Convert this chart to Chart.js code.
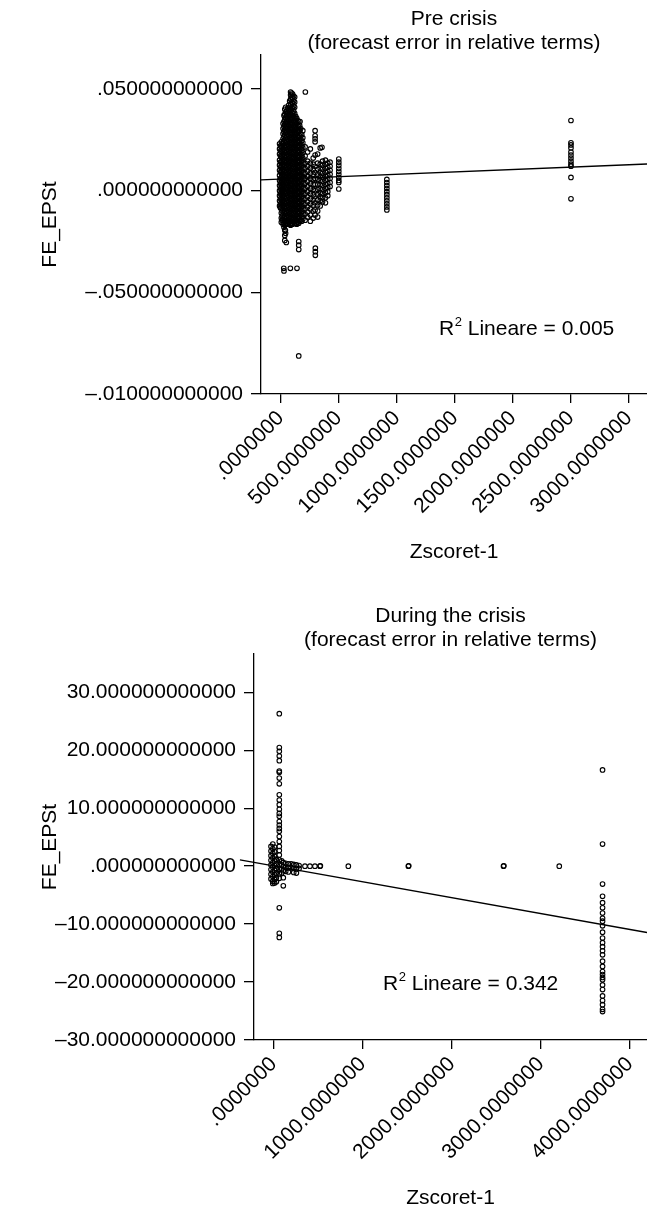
<!DOCTYPE html>
<html>
<head>
<meta charset="utf-8">
<script src="https://cdn.jsdelivr.net/npm/chart.js@4"></script>
<style>
  html, body { margin: 0; padding: 0; background: #fff; }
  body { width: 647px; height: 1212px; position: relative; overflow: hidden; }
  canvas { position: absolute; left: 0; }
  #pre-chart { top: 0; }
  #during-chart { top: 580px; }
</style>
</head>
<body>
<canvas id="pre-chart" width="647" height="580"></canvas>
<canvas id="during-chart" width="647" height="632"></canvas>
<script>
const FONT = '"Liberation Sans", Arial, Helvetica, sans-serif';
Chart.defaults.font.family = FONT;
Chart.defaults.color = '#000';

// ---- Pre crisis (FE_EPSt read in thousandths) ----
// [Zscoret-1, [FE_EPSt values ...]]
const preColumns = [
  [-10, [23, 20.5, 18, 15, 12.5, 10, 7.5, 5, 2.5, 0, -2.5, -5, -7.5]],
  [-2, [22, 19.5, 17, 14, 11.5, 9, 6, 3.5, 1, -1.5, -4, -6.5, -8.5]],
  [5, [24, 21.5, 19, 16.5, 14, 11.5, 9, 6.5, 4, 1.5, -1, -3.5, -6, -8.5, -11, -13.5, -15.5]],
  [12, [23, 20, 17.5, 15, 12.5, 10, 7.5, 5, 2.5, 0, -2.5, -5, -7.5, -10, -12.5, -14.5]],
  [20, [33, 30.5, 28, 25.5, 23, 20.5, 18, 15.5, 13, 10.5, 8, 5.5, 3, 0.5, -2, -4.5, -7, -9.5, -12, -14.5, -16.5]],
  [28, [37, 34, 31.5, 29, 26.5, 24, 21.5, 19, 16.5, 14, 11.5, 9, 6.5, 4, 1.5, -1, -3.5, -6, -8.5, -11, -13.5, -16, -18]],
  [35, [40, 37.5, 35, 32.5, 30, 27.5, 25, 22.5, 20, 17.5, 15, 12.5, 10, 7.5, 5, 2.5, 0, -2.5, -5, -7.5, -10, -12.5, -15, -17, -19.5, -22, -24.5]],
  [42, [41, 38.5, 36, 33.5, 31, 28.5, 26, 23.5, 21, 18.5, 16, 13.5, 11, 8.5, 6, 3.5, 1, -1.5, -4, -6.5, -9, -11.5, -14, -16.5]],
  [50, [39, 36.5, 34, 31.5, 29, 26.5, 24, 21.5, 19, 16.5, 14, 11.5, 9, 6.5, 4, 1.5, -1, -3.5, -6, -8.5, -11, -13.5, -16]],
  [59, [40.5, 38, 35.5, 33, 30.5, 28, 25.5, 23, 20.5, 18, 15.5, 13, 10.5, 8, 5.5, 3, 0.5, -2, -4.5, -7, -9.5, -12, -14.5, -16.5]],
  [68, [42, 39.5, 37, 34.5, 32, 29.5, 27, 24.5, 22, 19.5, 17, 14.5, 12, 9.5, 7, 4.5, 2, -0.5, -3, -5.5, -8, -10.5, -13, -15.5]],
  [77, [44, 41, 38.5, 36, 33.5, 31, 28.5, 26, 23.5, 21, 18.5, 16, 13.5, 11, 8.5, 6, 3.5, 1, -1.5, -4, -6.5, -9, -11.5, -14, -16.5]],
  [85, [48.5, 47, 45, 42.5, 40, 37.5, 35, 32.5, 30, 27.5, 25, 22.5, 20, 17.5, 15, 12.5, 10, 7.5, 5, 2.5, 0, -2.5, -5, -7.5, -10, -12.5, -15, -17]],
  [94, [48, 46, 43.5, 41, 38.5, 36, 33.5, 31, 28.5, 26, 23.5, 21, 18.5, 16, 13.5, 11, 8.5, 6, 3.5, 1, -1.5, -4, -6.5, -9, -11.5, -14, -16]],
  [102, [47.5, 45.5, 43, 40.5, 38, 35.5, 33, 30.5, 28, 25.5, 23, 20.5, 18, 15.5, 13, 10.5, 8, 5.5, 3, 0.5, -2, -4.5, -7, -9.5, -12, -14.5, -16.5]],
  [111, [46.5, 44, 41.5, 39, 36.5, 34, 31.5, 29, 26.5, 24, 21.5, 19, 16.5, 14, 11.5, 9, 6.5, 4, 1.5, -1, -3.5, -6, -8.5, -11, -13.5, -15.5]],
  [120, [46, 43.5, 41, 38, 35.5, 33, 30.5, 28, 25.5, 23, 20.5, 18, 15.5, 13, 10.5, 8, 5.5, 3, 0.5, -2, -4.5, -7, -9.5, -12, -14.5, -16]],
  [129, [36.5, 34, 31.5, 29, 26.5, 24, 21.5, 19, 16.5, 14, 11.5, 9, 6.5, 4, 1.5, -1, -3.5, -6, -8.5, -11, -13.5, -16]],
  [138, [35.5, 33, 30.5, 28, 25.5, 23, 20.5, 18, 15.5, 13, 10.5, 8, 5.5, 3, 0.5, -2, -4.5, -7, -9.5, -12, -14.5, -16.5]],
  [146, [34.5, 32, 29.5, 27, 24.5, 22, 19.5, 17, 14.5, 12, 9.5, 7, 4.5, 2, -0.5, -3, -5.5, -8, -10.5, -13, -15.5]],
  [155, [34, 31.5, 29, 26.5, 24, 21.5, 19, 16.5, 14, 11.5, 9, 6.5, 4, 1.5, -1, -3.5, -6, -8.5, -11, -13.5, -16]],
  [163, [32, 29.5, 27, 24.5, 22, 19.5, 17, 14.5, 12, 9.5, 7, 4.5, 2, -0.5, -3, -5.5, -8, -10.5, -13, -15]],
  [172, [30.5, 28, 25.5, 23, 20.5, 18, 15.5, 13, 10.5, 8, 5.5, 3, 0.5, -2, -4.5, -7, -9.5, -12, -14.5]],
  [181, [27.5, 24.5, 22, 19.5, 17, 14.5, 12, 9.5, 7, 4.5, 2, -0.5, -3, -5.5, -8, -10.5, -13, -15]],
  [190, [29.5, 26, 23.5, 21, 18.5, 16, 13.5, 11, 8.5, 6, 3.5, 1, -1.5, -4, -6.5, -9, -11.5, -14]],
  [210, [21.5, 17, 13.5, 11, 8.5, 6, 3.5, 1, -1.5, -4, -6.5, -9, -11.5, -14.5]],
  [232, [19, 14.5, 12, 9.5, 7, 4.5, 2, -0.5, -3, -5.5, -8, -10.5, -13]],
  [255, [20.5, 13.5, 11, 8.5, 6, 3.5, 1, -1.5, -4, -6.5, -9, -12, -15]],
  [280, [16, 13, 10.5, 8, 5.5, 3, 0.5, -2, -4.5, -7, -10, -13.5]],
  [296, [29.5, 27, 25.5, 24, 17.5, 12, 9, 6, 3, 0, -3, -6, -9.5, -12]],
  [318, [18, 13.5, 10.5, 8, 5.5, 3, 0.5, -2, -4.5, -7, -10, -13]],
  [340, [21, 13, 11, 9, 7, 5, 3, 1, -1, -3, -5, -7.5]],
  [360, [14.5, 12.5, 10.5, 8.5, 6.5, 4.5, 2.5, 0.5, -1.5, -3.5, -5.5]],
  [385, [15, 13, 11, 9, 7, 5, 3, 1, -1, -3.5, -6]],
  [405, [13.5, 11.5, 9.5, 7.5, 5.5, 3.5, 1.5, -0.5, -2.5]],
  [425, [14, 12, 10, 8, 6, 4, 2]],
  [500, [15.5, 14, 12.5, 11, 9.5, 8, 6.5, 5, 4, 0.8]],
  [914, [5.5, 4, 2.5, 1, -0.5, -2, -3.5, -5, -6.5, -8, -9.5]],
  [2500, [34.5, 23.5, 22.5, 21, 19, 17.5, 16, 14.5, 13, 12, 6.5, -4]]
];
const preSingles = [
  [212, 48.5], [166, 34], [355, 21.3], [40, -19.5], [42, -21], [48, -25.5],
  [155, -25], [155, -26.8], [155, -29], [298, -28.3], [298, -30], [298, -31.8],
  [26, -38.2], [28, -39.5], [83, -38.2], [140, -38.2], [155, -81.3]
];
const preFit = [[-170, 5.3], [3155, 13.1]];
const preXTicks = [0, 500, 1000, 1500, 2000, 2500, 3000];
const preXLabels = ['.0000000', '500.0000000', '1000.0000000', '1500.0000000', '2000.0000000', '2500.0000000', '3000.0000000'];
const preYTicks = [-0.1, -0.05, 0, 0.05];
const preYLabels = ['\u2013.010000000000', '\u2013.050000000000', '.000000000000', '.050000000000'];

// ---- During the crisis ----
const duringColumns = [
  [-30, [3.4, 2.6, 1.8, 1.0, 0.2, -0.6, -1.4, -2.2]],
  [-10, [3.8, 3.0, 2.2, 1.4, 0.6, -0.2, -1.0, -1.8, -2.6, -3.0]],
  [10, [3.3, 2.5, 1.7, 0.9, 0.1, -0.7, -1.5, -2.3, -2.9]],
  [30, [1.2, 0.4, -0.4, -1.2, -2.0, -2.7]],
  [63, [26.3, 20.45, 19.8, 19.0, 18.2, 16.4, 16.2, 15.2, 14.2, 12.3, 11.4, 10.6, 9.8, 9.1, 8.6, 7.7, 7.1, 6.5, 6.0, 5.1, 4.25, 3.4, 2.7, 1.9, 1.1, 0.3, -0.5, -1.3, -2.1, -7.2, -11.6, -12.3]],
  [90, [0.9, 0.2, -0.5, -1.2]],
  [108, [0.6, -0.1, -0.8, -2.0, -3.4]],
  [135, [0.5, -0.2, -0.9]],
  [165, [0.4, -0.3, -1.0]],
  [195, [0.4, -0.3]],
  [225, [0.3, -0.4, -1.1]],
  [255, [0.2, -0.5, -1.2]],
  [285, [0.1, -0.4]],
  [3692, [16.6, 3.8, -3.1, -5.2, -6.3, -7.2, -8.1, -9.0, -9.5, -10.3, -11.4, -12.4, -13.2, -13.9, -14.6, -15.3, -16.4, -17.3, -18.2, -18.7, -19.2, -19.6, -20.5, -21.3, -22.4, -23.2, -23.9, -24.7, -25.1]]
];
const duringSingles = [
  [351, 0], [407, 0], [463, 0], [520, 0], [524, 0.05], [838, 0],
  [1512, 0], [1516, 0.05], [2580, 0], [2584, 0.05], [3206, 0]
];
const duringFit = [[-379, 1.09], [4191, -11.45]];
const duringXTicks = [0, 1000, 2000, 3000, 4000];
const duringXLabels = ['.0000000', '1000.0000000', '2000.0000000', '3000.0000000', '4000.0000000'];
const duringYTicks = [-30, -20, -10, 0, 10, 20, 30];
const duringYLabels = ['\u201330.000000000000', '\u201320.000000000000', '\u201310.000000000000', '.000000000000', '10.000000000000', '20.000000000000', '30.000000000000'];

function toPoints(columns, singles, unit) {
  const pts = [];
  columns.forEach(([x, ys]) => ys.forEach(y => pts.push({ x: x, y: y * unit })));
  singles.forEach(([x, y]) => pts.push({ x: x, y: y * unit }));
  return pts;
}

const textPlugin = {
  id: 'textPlugin',
  afterDraw(chart, args, opts) {
    const ctx = chart.ctx;
    const area = chart.chartArea;
    ctx.save();
    ctx.fillStyle = '#000';
    ctx.textAlign = 'center';
    ctx.textBaseline = 'alphabetic';
    ctx.font = '21px ' + FONT;
    const cx = (area.left + area.right) / 2;
    opts.title.forEach((line, i) => ctx.fillText(line, cx, opts.titleY[i]));

    ctx.textAlign = 'left';
    let x = opts.r2X;
    ctx.fillText('R', x, opts.r2Y);
    x += ctx.measureText('R').width + 0.5;
    ctx.font = '13px ' + FONT;
    ctx.fillText('2', x, opts.r2Y - 9);
    x += ctx.measureText('2').width;
    ctx.font = '21px ' + FONT;
    ctx.fillText(' Lineare = ' + opts.r2, x, opts.r2Y);
    ctx.restore();
  }
};

function makeChart(id, cfg) {
  const axisLine = { display: true, color: '#000', width: 1.3 };
  return new Chart(document.getElementById(id), {
    type: 'scatter',
    data: {
      datasets: [{
        type: 'line',
        data: cfg.fit.map(([x, y]) => ({ x: x, y: y * cfg.unit })),
        borderColor: '#000',
        borderWidth: 1.3,
        pointRadius: 0,
        fill: false,
        showLine: true,
        clip: cfg.clip
      }, {
        type: 'scatter',
        data: toPoints(cfg.columns, cfg.singles, cfg.unit),
        pointStyle: 'circle',
        pointRadius: 2.3,
        pointBorderWidth: 1.1,
        pointBorderColor: '#000',
        pointBackgroundColor: 'rgba(0,0,0,0)'
      }]
    },
    options: {
      responsive: false,
      animation: false,
      events: [],
      layout: { autoPadding: false, padding: { top: cfg.top, left: 0, right: 0, bottom: 0 } },
      plugins: {
        legend: { display: false },
        tooltip: { enabled: false },
        textPlugin: cfg.text
      },
      scales: {
        x: {
          type: 'linear',
          min: cfg.xMin,
          max: cfg.xMax,
          afterBuildTicks: s => { s.ticks = cfg.xTicks.map(v => ({ value: v })); },
          afterFit: s => { s.height = cfg.xHeight; s.paddingLeft = 0; s.paddingRight = 0; },
          ticks: {
            autoSkip: false,
            minRotation: 45,
            maxRotation: 45,
            padding: 3,
            color: '#000',
            font: { size: 21 },
            callback: (v, i) => cfg.xLabels[i]
          },
          grid: { drawOnChartArea: false, drawTicks: true, tickLength: 9, color: '#000', lineWidth: 1.3 },
          border: axisLine,
          title: { display: true, text: 'Zscoret-1', color: '#000', font: { size: 21 }, padding: { top: 0, bottom: cfg.xTitlePad } }
        },
        y: {
          type: 'linear',
          min: cfg.yMin,
          max: cfg.yMax,
          afterBuildTicks: s => { s.ticks = cfg.yTicks.map(v => ({ value: v })); },
          afterFit: s => { s.width = cfg.yWidth; s.paddingTop = 0; s.paddingBottom = 0; },
          ticks: {
            padding: 8,
            color: '#000',
            font: { size: 21 },
            callback: (v, i) => cfg.yLabels[i]
          },
          grid: { drawOnChartArea: false, drawTicks: true, tickLength: 10, color: '#000', lineWidth: 1.3 },
          border: axisLine,
          title: { display: true, text: 'FE_EPSt', color: '#000', font: { size: 21 }, padding: { top: 37.4, bottom: 0 } }
        }
      }
    },
    plugins: [textPlugin]
  });
}

makeChart('pre-chart', {
  columns: preColumns, singles: preSingles, fit: preFit, unit: 0.001, clip: undefined,
  xMin: -170, xMax: 3155, yMin: -0.1, yMax: 0.0667,
  xTicks: preXTicks, xLabels: preXLabels, yTicks: preYTicks, yLabels: preYLabels,
  top: 55, yWidth: 261, xHeight: 186, xTitlePad: 14.7,
  text: { title: ['Pre crisis', '(forecast error in relative terms)'], titleY: [24.5, 48.5], r2: '0.005', r2X: 439, r2Y: 335 }
});

makeChart('during-chart', {
  columns: duringColumns, singles: duringSingles, fit: duringFit, unit: 1, clip: false,
  xMin: -221, xMax: 4191, yMin: -30, yMax: 36.6,
  xTicks: duringXTicks, xLabels: duringXLabels, yTicks: duringYTicks, yLabels: duringYLabels,
  top: 74, yWidth: 254, xHeight: 172, xTitlePad: 1.4,
  text: { title: ['During the crisis', '(forecast error in relative terms)'], titleY: [42, 66], r2: '0.342', r2X: 383, r2Y: 410 }
});
</script>
</body>
</html>
